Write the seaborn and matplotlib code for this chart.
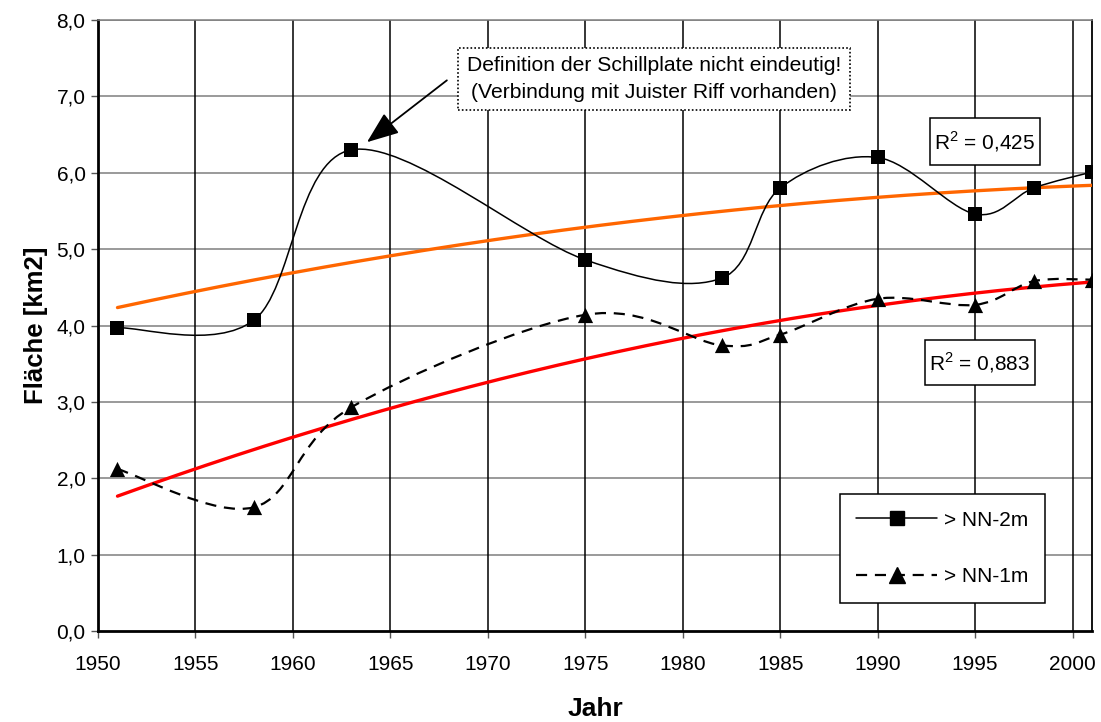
import numpy as np
import pandas as pd
import matplotlib
matplotlib.use("Agg")
import matplotlib.pyplot as plt
from matplotlib.path import Path
from matplotlib.patches import PathPatch, Rectangle
from matplotlib.lines import Line2D
from matplotlib.ticker import FuncFormatter, MultipleLocator
import seaborn as sns

# Survey years and areas (km2) above the two reference levels
years = [1951, 1958, 1963, 1975, 1982, 1985, 1990, 1995, 1998, 2001]
area_nn2 = [3.97, 4.07, 6.30, 4.86, 4.62, 5.80, 6.20, 5.46, 5.80, 6.01]
area_nn1 = [2.12, 1.62, 2.93, 4.14, 3.74, 3.88, 4.35, 4.27, 4.58, 4.60]
labels = ["> NN-2m", "> NN-1m"]
r2_labels = ["R$^2$ = 0,425", "R$^2$ = 0,883"]
note = "Definition der Schillplate nicht eindeutig!\n(Verbindung mit Juister Riff vorhanden)"

sns.set_theme(style="white")
plt.rcParams["font.family"] = ["Liberation Sans", "DejaVu Sans"]
plt.rcParams["mathtext.fontset"] = "custom"
plt.rcParams["mathtext.rm"] = "Liberation Sans"
for key in ("text.color", "axes.labelcolor", "xtick.labelcolor", "ytick.labelcolor"):
    plt.rcParams[key] = "black"

df = pd.DataFrame({"Jahr": years, "nn2": area_nn2, "nn1": area_nn1})

fig = plt.figure(figsize=(11.01, 7.22), dpi=100)
ax = fig.add_axes([98 / 1101, 91 / 722, (1092 - 98) / 1101, (631 - 20) / 722])


def smooth_path(x, y):
    """Cubic Bezier path through the points (spreadsheet-style smoothed line)."""
    pts = np.column_stack([x, y]).astype(float)
    n = len(pts)
    verts = [pts[0]]
    codes = [Path.MOVETO]
    for i in range(n - 1):
        p_prev = pts[i - 1] if i > 0 else pts[i]
        p_next2 = pts[i + 2] if i + 2 < n else pts[i + 1]
        c1 = pts[i] + (pts[i + 1] - p_prev) / 6.0
        c2 = pts[i + 1] - (p_next2 - pts[i]) / 6.0
        verts += [c1, c2, pts[i + 1]]
        codes += [Path.CURVE4] * 3
    return Path(verts, codes)


# Quadratic trend lines
xs = np.linspace(1951, 2001, 200)
for col, color in (("nn2", "#FF6600"), ("nn1", "#FF0000")):
    coef = np.polyfit(df["Jahr"], df[col], 2)
    ax.plot(xs, np.polyval(coef, xs), color=color, lw=2.4, zorder=3)

# Smoothed measurement lines
ax.add_patch(PathPatch(smooth_path(df["Jahr"], df["nn2"]), fill=False,
                       edgecolor="black", lw=1.1, zorder=4))
ax.add_patch(PathPatch(smooth_path(df["Jahr"], df["nn1"]), fill=False,
                       edgecolor="black", lw=1.6, linestyle=(0, (5, 3.5)), zorder=4))

sns.scatterplot(data=df, x="Jahr", y="nn2", marker="s", s=90, color="black",
                edgecolor="black", linewidth=0, ax=ax, zorder=5, legend=False)
sns.scatterplot(data=df, x="Jahr", y="nn1", marker="^", s=120, color="black",
                edgecolor="black", linewidth=0, ax=ax, zorder=5, legend=False)

ax.set_xlim(1950, 2001)
ax.set_ylim(0, 8)
ax.xaxis.set_major_locator(MultipleLocator(5))
ax.yaxis.set_major_locator(MultipleLocator(1))
ax.yaxis.set_major_formatter(FuncFormatter(lambda v, p: f"{v:.1f}".replace(".", ",")))
ax.tick_params(axis="both", which="major", direction="out", length=5, width=1,
               color="#555555", labelcolor="black", labelsize=15, pad=4,
               left=True, bottom=True)
ax.tick_params(axis="x", pad=12)

# Grid: grey horizontals, black verticals
for yv in range(1, 9):
    ax.axhline(yv, color="#7f7f7f", lw=1.1, zorder=1)
for xv in range(1955, 2001, 5):
    ax.axvline(xv, color="black", lw=1.1, zorder=1)

for side in ("left", "bottom"):
    ax.spines[side].set_color("black")
    ax.spines[side].set_linewidth(2.0)
ax.spines["right"].set_color("black")
ax.spines["right"].set_linewidth(1.3)
ax.spines["top"].set_color("#7f7f7f")
ax.spines["top"].set_linewidth(1.1)

ax.set_xlabel("Jahr", fontsize=19, fontweight="bold", labelpad=17, color="black")
ax.set_ylabel("Fläche [km2]", fontsize=18.5, fontweight="bold", labelpad=6, color="black")

# Note about the definition of the area, with its arrow
ax.text(1978.53, 7.225, note, ha="center", va="center", fontsize=15.2,
        linespacing=1.5, color="black",
        bbox=dict(boxstyle="square,pad=0.4", fc="white", ec="black",
                  lw=1.2, ls=(0, (1, 1.3))),
        zorder=6)
ax.annotate("", xy=(1963.8, 6.40), xytext=(1967.9, 7.21),
            arrowprops=dict(arrowstyle="-|>,head_length=0.9,head_width=0.35",
                            color="black", lw=1.3, mutation_scale=22,
                            shrinkA=0, shrinkB=0),
            zorder=6)

# Coefficients of determination in framed boxes
r2_boxes = [((1992.69, 6.10), 5.64, 0.615, (1995.5, 6.41)),
            ((1992.43, 3.22), 5.65, 0.59, (1995.25, 3.51))]
for (corner, w, h, centre), text in zip(r2_boxes, r2_labels):
    ax.add_patch(Rectangle(corner, w, h, fc="white", ec="black", lw=1.1, zorder=6))
    ax.text(*centre, text, ha="center", va="center", fontsize=15, color="black", zorder=7)

handles = [
    Line2D([], [], color="black", lw=1.1, marker="s", markersize=9.5),
    Line2D([], [], color="black", lw=1.6, linestyle=(0, (5, 3.5)), marker="^", markersize=11.5),
]
leg = ax.legend(handles, labels, loc="lower right", bbox_to_anchor=(0.9525, 0.046),
                fontsize=15, frameon=True, fancybox=False, edgecolor="black",
                framealpha=1, borderpad=0.8, labelspacing=1.8, handlelength=3.9,
                handletextpad=0.3, borderaxespad=0)
leg.get_frame().set_linewidth(1.1)
leg.set_zorder(7)
for t in leg.get_texts():
    t.set_color("black")

fig.savefig("out.png", dpi=100, facecolor="white")
